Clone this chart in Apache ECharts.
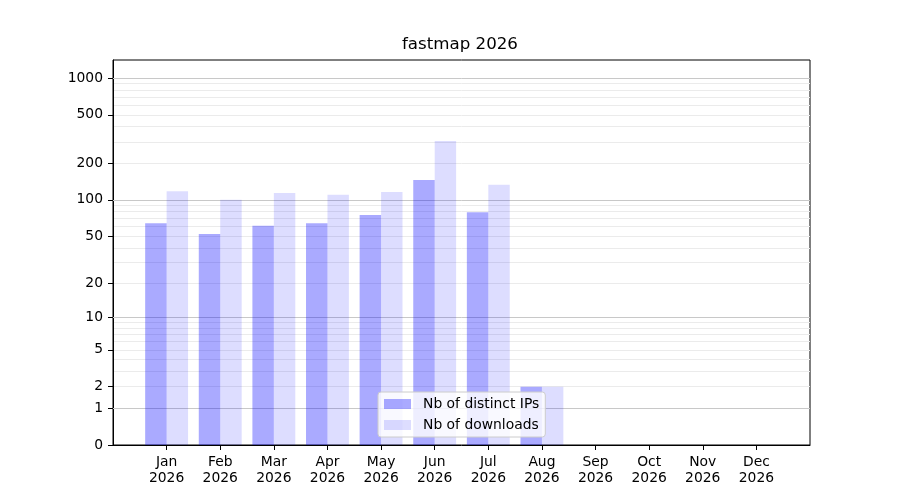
<!DOCTYPE html>
<html><head><meta charset="utf-8">
<script src="https://cdn.jsdelivr.net/npm/echarts@6/dist/echarts.min.js"></script>
<style>html,body{margin:0;padding:0;background:#fff}#c{width:900px;height:500px}</style>
</head><body><div id="c"></div>
<script>
const chartTitle = 'fastmap 2026';
const year = '2026';
const months = ['Jan','Feb','Mar','Apr','May','Jun','Jul','Aug','Sep','Oct','Nov','Dec'];
const seriesNames = ['Nb of distinct IPs', 'Nb of downloads'];
const distinctIPs = [64, 52, 61, 64, 75, 146, 79, 2, 0, 0, 0, 0];
const downloads = [118, 100, 114, 110, 116, 305, 133, 2, 0, 0, 0, 0];
const yTickValues = [0, 1, 2, 5, 10, 20, 50, 100, 200, 500, 1000];
const yMajorGridValues = [1, 10, 100, 1000];
const yMinorGridValues = [3, 4, 6, 7, 8, 9, 30, 40, 60, 70, 80, 90, 300, 400, 600, 700, 800, 900];
const yTopValue = 1405;

// symmetric-log style transform: log10(1 + v)
const T = v => Math.log10(1 + v);
const YMAX = T(yTopValue);
const FONT = 'DejaVu Sans';
const FS = 13.89;

const cats = [''].concat(months.map(m => m + '\n' + year)).concat(['']);
const pad = arr => [null].concat(arr.map(T)).concat([null]);

const chart = echarts.init(document.getElementById('c'), null, {renderer: 'canvas'});
const baseY = {type: 'value', min: 0, max: YMAX, position: 'left'};
chart.setOption({
  animation: false,
  title: {
    text: chartTitle, left: 402, top: 36, padding: 0,
    textStyle: {fontFamily: FONT, fontSize: 16.67, fontWeight: 'normal', color: '#000'}
  },
  grid: {left: 113, right: 90, top: 60, bottom: 55, show: true, borderColor: '#000', borderWidth: 1, backgroundColor: 'transparent'},
  legend: {
    orient: 'vertical', left: 378, top: 392,
    padding: [4, 6, 4, 6], itemGap: 5, itemWidth: 27, itemHeight: 10,
    backgroundColor: 'rgba(255,255,255,0.8)', borderColor: '#cccccc', borderWidth: 1, borderRadius: 3,
    icon: 'rect',
    textStyle: {fontFamily: FONT, fontSize: FS, color: '#000', lineHeight: 16, padding: [0, 0, 0, 7]},
    data: seriesNames
  },
  xAxis: {
    type: 'category', data: cats, boundaryGap: false,
    axisLine: {show: true, lineStyle: {color: '#000', width: 1}},
    axisTick: {show: true, length: 5, lineStyle: {color: '#000'}, interval: (i) => i > 0 && i < cats.length - 1},
    axisLabel: {interval: 0, margin: 9, fontFamily: FONT, fontSize: FS, color: '#000', lineHeight: 16},
    splitLine: {show: false}
  },
  yAxis: [
    Object.assign({}, baseY, {
      axisLine: {show: true, lineStyle: {color: '#000', width: 1}},
      axisTick: {show: true, length: 5, lineStyle: {color: '#000'}, customValues: yTickValues.map(T)},
      axisLabel: {customValues: yTickValues.map(T), margin: 10, fontFamily: FONT, fontSize: FS, color: '#000',
        padding: [2, 0, 0, 0],
        formatter: v => String(Math.round(Math.pow(10, v) - 1))},
      splitLine: {show: true, lineStyle: {color: '#ebebeb', width: 1}}
    }),
    Object.assign({}, baseY, {
      z: 1,
      axisLine: {show: false},
      axisTick: {show: false, customValues: yMajorGridValues.map(T)},
      axisLabel: {show: false},
      splitLine: {show: true, lineStyle: {color: '#c8c8c8', width: 1}}
    }),
    Object.assign({}, baseY, {
      axisLine: {show: false},
      axisTick: {show: false, customValues: yMinorGridValues.map(T)},
      axisLabel: {show: false},
      splitLine: {show: true, lineStyle: {color: '#ebebeb', width: 1}}
    })
  ],
  series: [
    {name: seriesNames[0], type: 'bar', yAxisIndex: 0, data: pad(distinctIPs), barWidth: 21.45, barGap: '0%',
      itemStyle: {color: 'rgba(0,0,255,0.333)'}},
    {name: seriesNames[1], type: 'bar', yAxisIndex: 0, data: pad(downloads), barWidth: 21.45, barGap: '0%',
      itemStyle: {color: 'rgba(0,0,255,0.133)'}}
  ]
});
</script>
</body></html>
